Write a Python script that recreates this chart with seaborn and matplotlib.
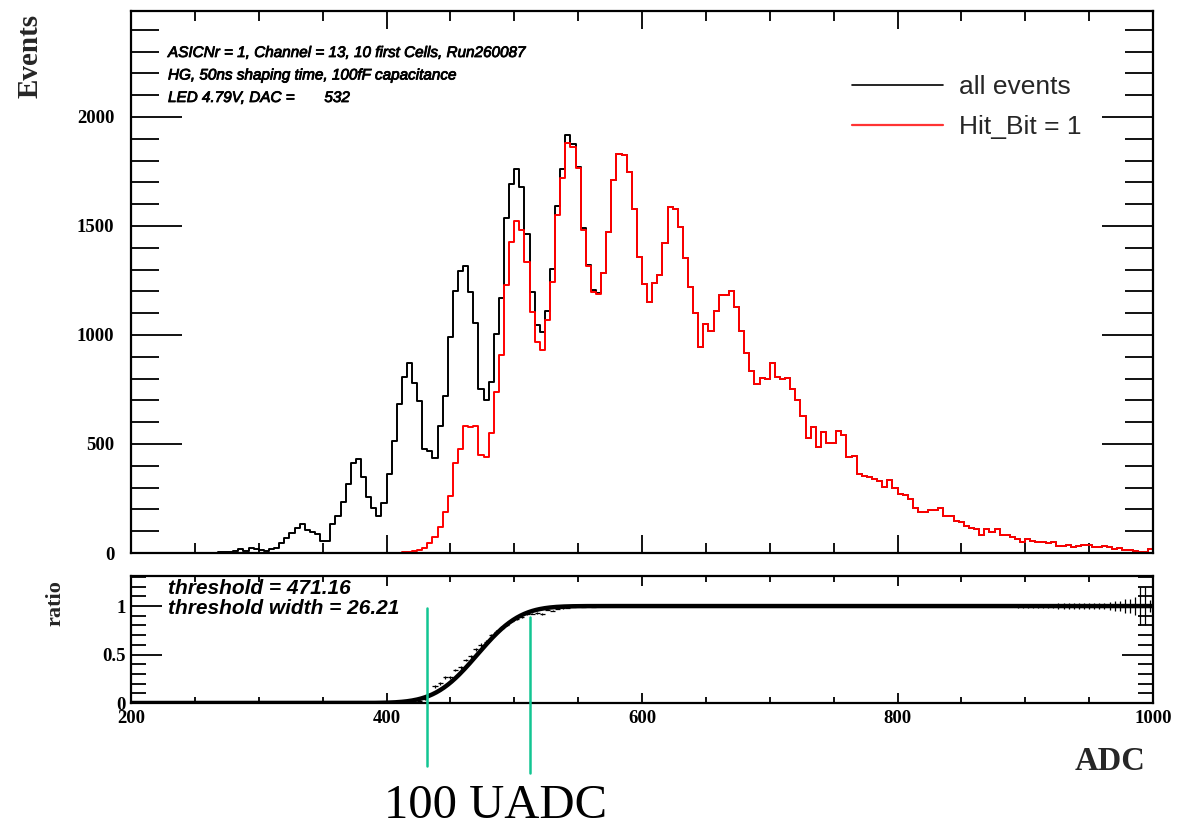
import numpy as np
import pandas as pd
import matplotlib
matplotlib.use("Agg")
import matplotlib.pyplot as plt
from matplotlib.lines import Line2D
from matplotlib.ticker import MultipleLocator, FixedLocator
import matplotlib.patheffects as pe
import seaborn as sns
from math import erf, sqrt

# ---------------- data ----------------
adc_min, adc_max, bin_width = 200, 1000, 4

# all events, bins 16..91 (bins below 16 are empty)
black_head = [2, 3, 5, 6, 10, 18, 10, 25, 20, 12, 10, 17, 25, 44, 67, 93, 113, 131,
              105, 95, 86, 57, 57, 131, 170, 235, 316, 414, 429, 350, 258, 205, 170,
              228, 361, 515, 682, 809, 870, 778, 699, 475, 468, 434, 582, 720, 992,
              1203, 1294, 1316, 1196, 1053, 751, 702, 786, 1005, 1168, 1535, 1693,
              1760, 1680, 1463, 1197, 1046, 1012, 1111, 1304, 1593, 1762, 1917, 1876,
              1772, 1492, 1321, 1206, 1191]
black_first_bin = 16

# Hit_Bit = 1, bins 53..91
red_head = [3, 4, 7, 14, 21, 44, 74, 118, 190, 261, 411, 475, 582, 576, 582, 450,
            442, 549, 740, 908, 1229, 1428, 1523, 1482, 1336, 1104, 969, 931, 1069,
            1242, 1550, 1719, 1879, 1864, 1764, 1482, 1318, 1199, 1188]
red_first_bin = 53

# bins 92..199, identical for both histograms
common_tail = [1286, 1471, 1711, 1830, 1827, 1746, 1576, 1356, 1234, 1150, 1237, 1275,
               1423, 1589, 1576, 1494, 1355, 1222, 1102, 946, 1050, 1018, 1110, 1183,
               1183, 1203, 1130, 1018, 919, 836, 774, 804, 798, 870, 807, 798, 804, 752,
               702, 628, 529, 579, 488, 554, 503, 503, 561, 541, 442, 445, 362, 355,
               350, 338, 330, 304, 335, 298, 270, 264, 246, 205, 190, 190, 197, 197,
               205, 170, 171, 148, 143, 124, 116, 109, 83, 110, 98, 110, 83, 83, 75,
               63, 49, 64, 55, 49, 49, 44, 49, 34, 34, 37, 29, 34, 37, 37, 29, 29, 32,
               26, 18, 21, 14, 14, 11, 5, 5, 17]

threshold = 471.16
threshold_width = 26.21
marker_adc = [432, 512.5]

info_lines = ["ASICNr = 1, Channel = 13, 10 first Cells, Run260087",
              "HG, 50ns shaping time, 100fF capacitance",
              "LED 4.79V, DAC =       532"]
fit_lines = ["threshold = 471.16", "threshold width = 26.21"]
legend_labels = ["all events", "Hit_Bit = 1"]

# ---------------- derived arrays ----------------
edges = np.arange(adc_min, adc_max + bin_width, bin_width)
nb = len(edges) - 1
centers = edges[:-1] + bin_width / 2
black = np.zeros(nb)
red = np.zeros(nb)
black[black_first_bin:black_first_bin + len(black_head)] = black_head
red[red_first_bin:red_first_bin + len(red_head)] = red_head
tail_start = black_first_bin + len(black_head)
black[tail_start:] = common_tail
red[tail_start:] = common_tail

hist_df = pd.DataFrame({"adc": centers, "all": black, "hit": red})

mask = black > 0
safe_black = np.where(mask, black, 1)
ratio = np.where(mask, red / safe_black, np.nan)
ratio_err = np.where(mask, np.sqrt(ratio * np.maximum(1 - ratio, 1.0 / safe_black) / safe_black), np.nan)

fit_x = np.linspace(adc_min, adc_max, 801)
fit_y = np.array([0.5 * (1 + erf((v - threshold) / (sqrt(2) * threshold_width))) for v in fit_x])

# ---------------- figure ----------------
sns.set_theme(style="ticks")
plt.rcParams["font.family"] = ["Liberation Sans", "DejaVu Sans"]
W, H = 1186, 827
fig = plt.figure(figsize=(W / 100, H / 100), dpi=100)
fig.patch.set_facecolor("white")

def fx(x):
    return x / W

def fy(y):
    return 1 - y / H

ax1 = fig.add_axes([fx(131), fy(553), (1153 - 131) / W, (553 - 11) / H])
ax2 = fig.add_axes([fx(131), fy(703), (1153 - 131) / W, (703 - 576) / H])

for ax in (ax1, ax2):
    ax.set_facecolor("white")
    for s in ax.spines.values():
        s.set_color("black")
        s.set_linewidth(1.6)
        s.set_visible(True)

sns.histplot(data=hist_df, x="adc", weights="all", binwidth=bin_width,
             binrange=(adc_min, adc_max), element="step", fill=False,
             color="black", linewidth=1.4, ax=ax1)
sns.histplot(data=hist_df, x="adc", weights="hit", binwidth=bin_width,
             binrange=(adc_min, adc_max), element="step", fill=False,
             color="#ff0000", linewidth=1.4, ax=ax1)

ax1.set_xlim(adc_min, adc_max)
ax1.set_ylim(0, 2486)
ax1.set_xlabel("")
ax1.set_ylabel("")
ax1.xaxis.set_major_locator(MultipleLocator(200))
ax1.xaxis.set_minor_locator(MultipleLocator(50))
ax1.yaxis.set_major_locator(MultipleLocator(500))
ax1.yaxis.set_minor_locator(MultipleLocator(100))
ax1.tick_params(axis="x", which="both", labelbottom=False, direction="in",
                top=True, bottom=True, color="black", width=1.3)
ax1.tick_params(axis="x", which="major", length=13)
ax1.tick_params(axis="x", which="minor", length=7)
ax1.tick_params(axis="y", which="both", direction="in", left=True, right=True,
                color="black", width=1.3)
ax1.tick_params(axis="y", which="major", length=37, pad=12)
ax1.tick_params(axis="y", which="minor", length=20)
ax1.set_yticks([0, 500, 1000, 1500, 2000])
ax1.set_yticklabels(["0", "500", "1000", "1500", "2000"])

# ratio panel
sns.lineplot(x=fit_x, y=fit_y, color="black", linewidth=3.2, ax=ax2)
ax2.errorbar(centers[mask], ratio[mask], xerr=bin_width / 2, yerr=ratio_err[mask],
             fmt="none", ecolor="black", elinewidth=0.9, capsize=0)
ax2.set_xlim(adc_min, adc_max)
ax2.set_ylim(0, 1.31)
ax2.set_xlabel("")
ax2.set_ylabel("")
ax2.xaxis.set_major_locator(MultipleLocator(200))
ax2.xaxis.set_minor_locator(MultipleLocator(50))
ax2.yaxis.set_major_locator(FixedLocator([0, 0.5, 1]))
ax2.yaxis.set_minor_locator(MultipleLocator(0.1))
ax2.tick_params(axis="x", which="both", direction="in", top=True, bottom=True,
                color="black", width=1.3, pad=5)
ax2.tick_params(axis="x", which="major", length=7)
ax2.tick_params(axis="x", which="minor", length=4)
ax2.tick_params(axis="y", which="both", direction="in", left=True, right=True,
                color="black", width=1.3, pad=4)
ax2.tick_params(axis="y", which="major", length=22)
ax2.tick_params(axis="y", which="minor", length=11)
ax2.set_yticks([0, 0.5, 1])
ax2.set_yticklabels(["0", "0.5", "1"])
ax2.set_xticks([200, 400, 600, 800, 1000])
ax2.set_xticklabels(["200", "400", "600", "800", "1000"])

for ax in (ax1, ax2):
    for lab in ax.get_xticklabels() + ax.get_yticklabels():
        lab.set_fontfamily("Liberation Serif")
        lab.set_fontweight("bold")
        lab.set_fontsize(13.5)
        lab.set_color("black")

# axis titles
fig.text(fx(30), fy(56), "Events", rotation=90, ha="center", va="center",
         fontfamily="Liberation Serif", fontweight="bold", fontsize=21)
fig.text(fx(55), fy(603), "ratio", rotation=90, ha="center", va="center",
         fontfamily="Liberation Serif", fontweight="bold", fontsize=16)
fig.text(fx(1110), fy(762), "ADC", ha="center", va="center",
         fontfamily="Liberation Serif", fontweight="bold", fontsize=23.5)

# info text
heavy = [pe.withStroke(linewidth=0.6, foreground="black")]
for i, t in enumerate(info_lines):
    fig.text(fx(168), fy(53 + 22.5 * i), t, ha="left", va="center", style="italic",
             fontsize=11, color="black", path_effects=heavy)
for i, t in enumerate(fit_lines):
    fig.text(fx(168), fy(589 + 19 * i), t, ha="left", va="center", style="italic",
             fontweight="bold", fontsize=15, color="black")

# legend
handles = [Line2D([], [], color="black", lw=1.2), Line2D([], [], color="#ff3333", lw=1.6)]
ax1.legend(handles, legend_labels, loc="upper left",
           bbox_to_anchor=(fx(852), fy(75)), bbox_transform=fig.transFigure,
           frameon=False, fontsize=19, handlelength=3.45, handletextpad=0.6,
           labelspacing=0.6, borderaxespad=0, borderpad=0)

# green markers spanning the 100 UADC range
green = "#12c592"
for xm, (ytop, ybot) in zip(marker_adc, [(0.98, -0.65), (0.887, -0.72)]):
    ax2.plot([xm, xm], [ytop, ybot], color=green, lw=1.8, clip_on=False, zorder=5)

fig.text(fx(496), fy(806), "100 UADC", ha="center", va="center",
         fontfamily="Liberation Serif", fontsize=35, color="black")

fig.savefig("out.png", dpi=100, facecolor="white")
